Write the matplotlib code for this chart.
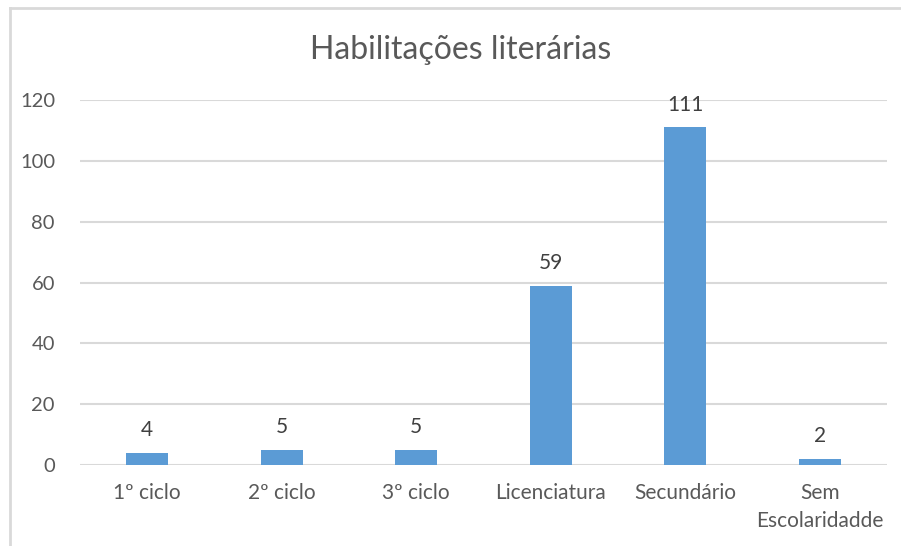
import matplotlib
matplotlib.use("Agg")
import matplotlib.pyplot as plt
from matplotlib.lines import Line2D

categories = ["1º ciclo", "2º ciclo", "3º ciclo", "Licenciatura", "Secundário", "Sem\nEscolaridadde"]
values = [4, 5, 5, 59, 111, 2]
yticks = [0, 20, 40, 60, 80, 100, 120]

plt.rcParams['font.family'] = ['Lato', 'DejaVu Sans']

W, H = 901, 546
fig = plt.figure(figsize=(W/100, H/100), dpi=100)
ax = fig.add_axes([80/W, 1 - 465/H, (887-80)/W, (465-100)/H])

x = list(range(len(categories)))
ax.bar(x, values, width=0.31, color="#5B9BD5", zorder=3)
ax.set_xlim(-0.5, len(categories) - 0.5)
ax.set_ylim(0, 120)
ax.set_yticks(yticks)
ax.set_xticks(x)
ax.set_xticklabels(categories, fontsize=15, color="#595959", linespacing=1.5)
ax.tick_params(axis='y', labelsize=14.5, labelcolor="#595959", length=0, pad=18)
ax.tick_params(axis='x', length=0, pad=13)
ax.grid(axis='y', color="#d9d9d9", linewidth=1.5, zorder=0)
for s in ax.spines.values():
    s.set_visible(False)

for xi, v in zip(x, values):
    ax.annotate(str(v), (xi, v), xytext=(0, 9), textcoords="offset points",
                ha="center", va="bottom", fontsize=15, color="#404040")

fig.text(461/W, 1 - 50/H, "Habilitações literárias", ha="center", va="center",
         fontsize=23, color="#595959")

fig.add_artist(Line2D([9.5/W, 9.5/W], [0, 1 - 8/H], transform=fig.transFigure, color="#d9d9d9", linewidth=2))
fig.add_artist(Line2D([9.5/W, 1], [1 - 8/H, 1 - 8/H], transform=fig.transFigure, color="#d9d9d9", linewidth=2))

fig.savefig("out.png", dpi=100, facecolor="white")
